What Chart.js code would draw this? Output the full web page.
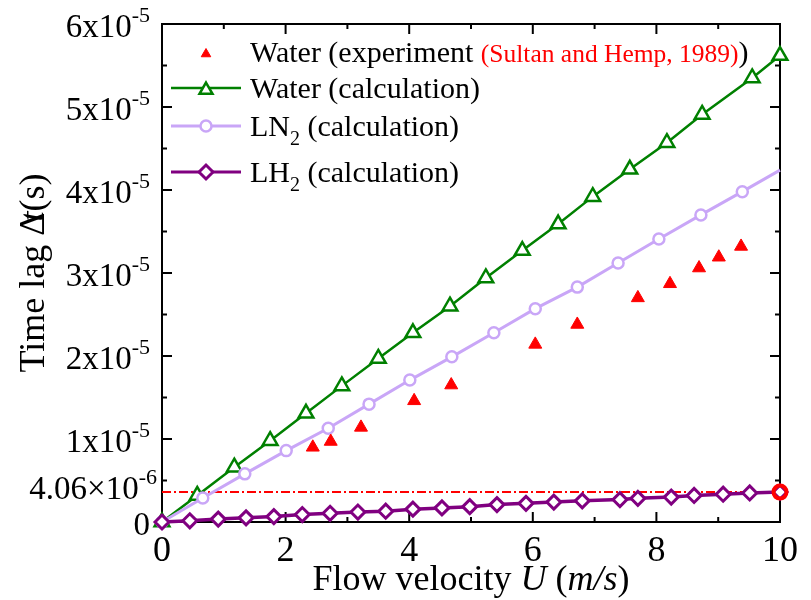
<!DOCTYPE html>
<html>
<head>
<meta charset="utf-8">
<script src="https://cdn.jsdelivr.net/npm/chart.js@4.4.1/dist/chart.umd.min.js"></script>
<style>
  html, body { margin: 0; padding: 0; background: #fff; }
</style>
</head>
<body>
<canvas id="lagChart" width="811" height="600"></canvas>
<script>
// --- data (time lag in units of 1e-5 s, velocity in m/s) ---
const waterExpU   = [2.44, 2.73, 3.22, 4.08, 4.68, 6.04, 6.72, 7.70, 8.22, 8.69, 9.01, 9.37];
const waterExpLag = [0.90, 0.97, 1.14, 1.46, 1.65, 2.14, 2.38, 2.70, 2.87, 3.06, 3.19, 3.32];

const waterCalcU   = [0, 0.57, 1.17, 1.75, 2.33, 2.91, 3.50, 4.06, 4.66, 5.24, 5.83, 6.41, 6.97, 7.57, 8.17, 8.74, 9.55, 10.0];
const waterCalcLag = [0, 0.32, 0.66, 0.98, 1.31, 1.64, 1.97, 2.28, 2.60, 2.94, 3.27, 3.59, 3.92, 4.25, 4.57, 4.91, 5.35, 5.62];

const ln2U   = [0, 0.66, 1.34, 2.01, 2.69, 3.35, 4.01, 4.69, 5.37, 6.04, 6.72, 7.38, 8.04, 8.72, 9.39, 10];
const ln2Lag = [0, 0.29, 0.58, 0.86, 1.13, 1.42, 1.71, 1.99, 2.28, 2.57, 2.83, 3.12, 3.41, 3.70, 3.98, 4.24];

const lh2U   = [0, 0.45, 0.91, 1.36, 1.81, 2.27, 2.72, 3.17, 3.62, 4.06, 4.53, 4.98, 5.42, 5.89, 6.34, 6.80, 7.41, 7.70, 8.24, 8.61, 9.08, 9.51, 10];
const lh2Lag = [0, 0.015, 0.035, 0.05, 0.065, 0.09, 0.105, 0.12, 0.13, 0.155, 0.17, 0.185, 0.21, 0.225, 0.24, 0.255, 0.27, 0.285, 0.30, 0.32, 0.335, 0.35, 0.36];

// dash-dot reference line and its label (4.06x10^-6 s)
const refLineLag = 0.36;
const refLabelLag = 0.406;

// --- ticks ---
const uMajor = [0, 2, 4, 6, 8, 10];
const uMinor = [1, 3, 5, 7, 9];
const lagMajor = [0, 1, 2, 3, 4, 5, 6];
const lagMinor = [0.5, 1.5, 2.5, 3.5, 4.5, 5.5];
const lagTickBase = ['0', '1x10', '2x10', '3x10', '4x10', '5x10', '6x10'];
const lagTickExp  = ['', '-5', '-5', '-5', '-5', '-5', '-5'];

const GREEN = '#008000', LAVENDER = '#c9a6f7', PURPLE = '#800080', RED = '#ff0000';
const SERIF = "'Liberation Serif', 'DejaVu Serif', serif";

const pts = (xs, ys) => xs.map((x, i) => ({ x: x, y: ys[i] }));

function drawRuns(ctx, x, y, runs) {
    ctx.textAlign = 'left';
    ctx.textBaseline = 'alphabetic';
    runs.forEach(r => {
        ctx.font = r.font;
        ctx.fillStyle = r.color || '#000';
        x += (r.kern || 0);
        ctx.fillText(r.text, x, y + (r.dy || 0));
        x += ctx.measureText(r.text).width;
    });
}
function runsWidth(ctx, runs) {
    return runs.reduce((w, r) => { ctx.font = r.font; return w + ctx.measureText(r.text).width + (r.kern || 0); }, 0);
}

// frame with inward ticks on all four sides
const frameTicks = {
    id: 'frameTicks',
    beforeDatasetsDraw(chart) {
        const { ctx, chartArea: a, scales: { x, y } } = chart;
        ctx.save();
        ctx.strokeStyle = '#000';
        ctx.lineWidth = 2;
        ctx.strokeRect(a.left, a.top, a.right - a.left, a.bottom - a.top);
        const seg = (x1, y1, x2, y2) => { ctx.beginPath(); ctx.moveTo(x1, y1); ctx.lineTo(x2, y2); ctx.stroke(); };
        const vTicks = (vals, len) => vals.forEach(v => {
            const px = x.getPixelForValue(v);
            seg(px, a.bottom, px, a.bottom - len);
            seg(px, a.top, px, a.top + len);
        });
        const hTicks = (vals, len) => vals.forEach(v => {
            const py = y.getPixelForValue(v);
            seg(a.left, py, a.left + len, py);
            seg(a.right, py, a.right - len, py);
        });
        vTicks(uMajor, 10); vTicks(uMinor, 5);
        hTicks(lagMajor, 10); hTicks(lagMinor, 5);
        ctx.restore();
    }
};

// tick labels, axis titles and legend
const labelsAndLegend = {
    id: 'labelsAndLegend',
    afterDraw(chart) {
        const { ctx, chartArea: a, scales: { x, y } } = chart;
        ctx.save();

        // x tick labels
        ctx.font = '36px ' + SERIF;
        ctx.fillStyle = '#000';
        ctx.textAlign = 'center';
        ctx.textBaseline = 'alphabetic';
        uMajor.forEach(v => ctx.fillText(String(v), x.getPixelForValue(v), 561));

        // y tick labels with superscript exponent
        lagMajor.forEach((v, i) => {
            const runs = [{ text: lagTickBase[i], font: '33px ' + SERIF }];
            if (lagTickExp[i]) runs.push({ text: lagTickExp[i], font: '22px ' + SERIF, dy: -15 });
            const w = runsWidth(ctx, runs);
            drawRuns(ctx, 150 - w, y.getPixelForValue(v) + 13, runs);
        });
        const refRuns = [
            { text: '4.06\u00d710', font: '33px ' + SERIF },
            { text: '-6', font: '22px ' + SERIF, dy: -15 }
        ];
        drawRuns(ctx, 157 - runsWidth(ctx, refRuns), y.getPixelForValue(refLabelLag) + 11, refRuns);

        // x axis title
        const xTitle = [
            { text: 'Flow velocity ', font: '36px ' + SERIF },
            { text: 'U', font: 'italic 36px ' + SERIF },
            { text: ' (', font: '36px ' + SERIF },
            { text: 'm/s', font: 'italic 36px ' + SERIF },
            { text: ')', font: '36px ' + SERIF }
        ];
        drawRuns(ctx, (a.left + a.right) / 2 - runsWidth(ctx, xTitle) / 2, 590, xTitle);

        // y axis title
        const yTitle = [
            { text: 'Time lag \u0394', font: '36px ' + SERIF },
            { text: 't', font: 'italic 36px ' + SERIF, kern: -9 },
            { text: '(s)', font: '36px ' + SERIF }
        ];
        ctx.translate(44, (a.top + a.bottom) / 2);
        ctx.rotate(-Math.PI / 2);
        drawRuns(ctx, -runsWidth(ctx, yTitle) / 2, 0, yTitle);
        ctx.setTransform(1, 0, 0, 1, 0, 0);

        // legend
        const f30 = '30px ' + SERIF;
        const rows = [
            { y: 52, line: null, style: 'triangle', r: 5.5, color: RED, fill: RED, bw: 1,
              runs: [{ text: 'Water (experiment ', font: f30 },
                     { text: '(Sultan and Hemp, 1989)', font: '25.5px ' + SERIF, color: RED },
                     { text: ')', font: f30 }] },
            { y: 88, line: GREEN, lw: 2.5, style: 'triangle', r: 7.5, color: GREEN, fill: '#fff', bw: 2.5,
              runs: [{ text: 'Water (calculation)', font: f30 }] },
            { y: 126, line: LAVENDER, lw: 3, style: 'circle', r: 5.5, color: LAVENDER, fill: '#fff', bw: 2.5,
              runs: [{ text: 'LN', font: f30 }, { text: '2', font: '20px ' + SERIF, dy: 9 },
                     { text: ' (calculation)', font: f30 }] },
            { y: 172, line: PURPLE, lw: 3, style: 'rectRot', r: 7, color: PURPLE, fill: '#fff', bw: 3,
              runs: [{ text: 'LH', font: f30 }, { text: '2', font: '20px ' + SERIF, dy: 9 },
                     { text: ' (calculation)', font: f30 }] }
        ];
        rows.forEach(row => {
            if (row.line) {
                ctx.strokeStyle = row.line;
                ctx.lineWidth = row.lw;
                ctx.beginPath(); ctx.moveTo(171, row.y); ctx.lineTo(241, row.y); ctx.stroke();
            }
            ctx.strokeStyle = row.color;
            ctx.fillStyle = row.fill;
            ctx.lineWidth = row.bw;
            Chart.helpers.drawPoint(ctx, { pointStyle: row.style, radius: row.r, rotation: 0, borderWidth: row.bw },
                206, row.style === 'triangle' ? row.y + 2 : row.y);
            drawRuns(ctx, 250, row.y + 10, row.runs);
        });

        ctx.restore();
    }
};

new Chart(document.getElementById('lagChart'), {
    type: 'scatter',
    data: {
        datasets: [
            {   // end point marker
                data: [{ x: 10, y: refLineLag }],
                pointStyle: 'circle', pointRadius: 6.5, pointBorderWidth: 4,
                borderColor: RED, backgroundColor: 'rgba(0,0,0,0)', showLine: false, clip: false
            },
            {   // LH2
                data: pts(lh2U, lh2Lag),
                showLine: true, borderColor: PURPLE, borderWidth: 3.5,
                pointStyle: 'rectRot', pointRadius: 7, pointBorderWidth: 3,
                backgroundColor: '#fff', clip: false
            },
            {   // water experiment
                data: pts(waterExpU, waterExpLag),
                showLine: false, pointStyle: 'triangle', pointRadius: 7.5, pointBorderWidth: 1,
                borderColor: RED, backgroundColor: RED, clip: false
            },
            {   // LN2
                data: pts(ln2U, ln2Lag),
                showLine: true, borderColor: LAVENDER, borderWidth: 3,
                pointStyle: 'circle', pointRadius: ln2U.map((u, i) => i === ln2U.length - 1 ? 0 : 5.5),
                pointBorderWidth: 2.5, backgroundColor: '#fff', clip: false
            },
            {   // water calculation
                data: pts(waterCalcU, waterCalcLag),
                showLine: true, borderColor: GREEN, borderWidth: 2.5,
                pointStyle: 'triangle', pointRadius: 8.5, pointBorderWidth: 2.5,
                backgroundColor: '#fff', clip: false
            },
            {   // dash-dot reference line
                data: [{ x: 0, y: refLineLag }, { x: 10, y: refLineLag }],
                showLine: true, borderColor: RED, borderWidth: 2, borderDash: [9, 3, 2, 3],
                pointRadius: 0
            }
        ]
    },
    options: {
        responsive: false,
        animation: false,
        layout: { padding: { top: 24, right: 31, left: 0, bottom: 0 } },
        plugins: { legend: { display: false }, tooltip: { enabled: false } },
        scales: {
            x: {
                type: 'linear', min: 0, max: 10,
                ticks: { display: false }, grid: { display: false }, border: { display: false },
                afterFit: (s) => { s.height = 78; }
            },
            y: {
                type: 'linear', min: 0, max: 6,
                ticks: { display: false }, grid: { display: false }, border: { display: false },
                afterFit: (s) => { s.width = 162; }
            }
        }
    },
    plugins: [frameTicks, labelsAndLegend]
});
</script>
</body>
</html>
